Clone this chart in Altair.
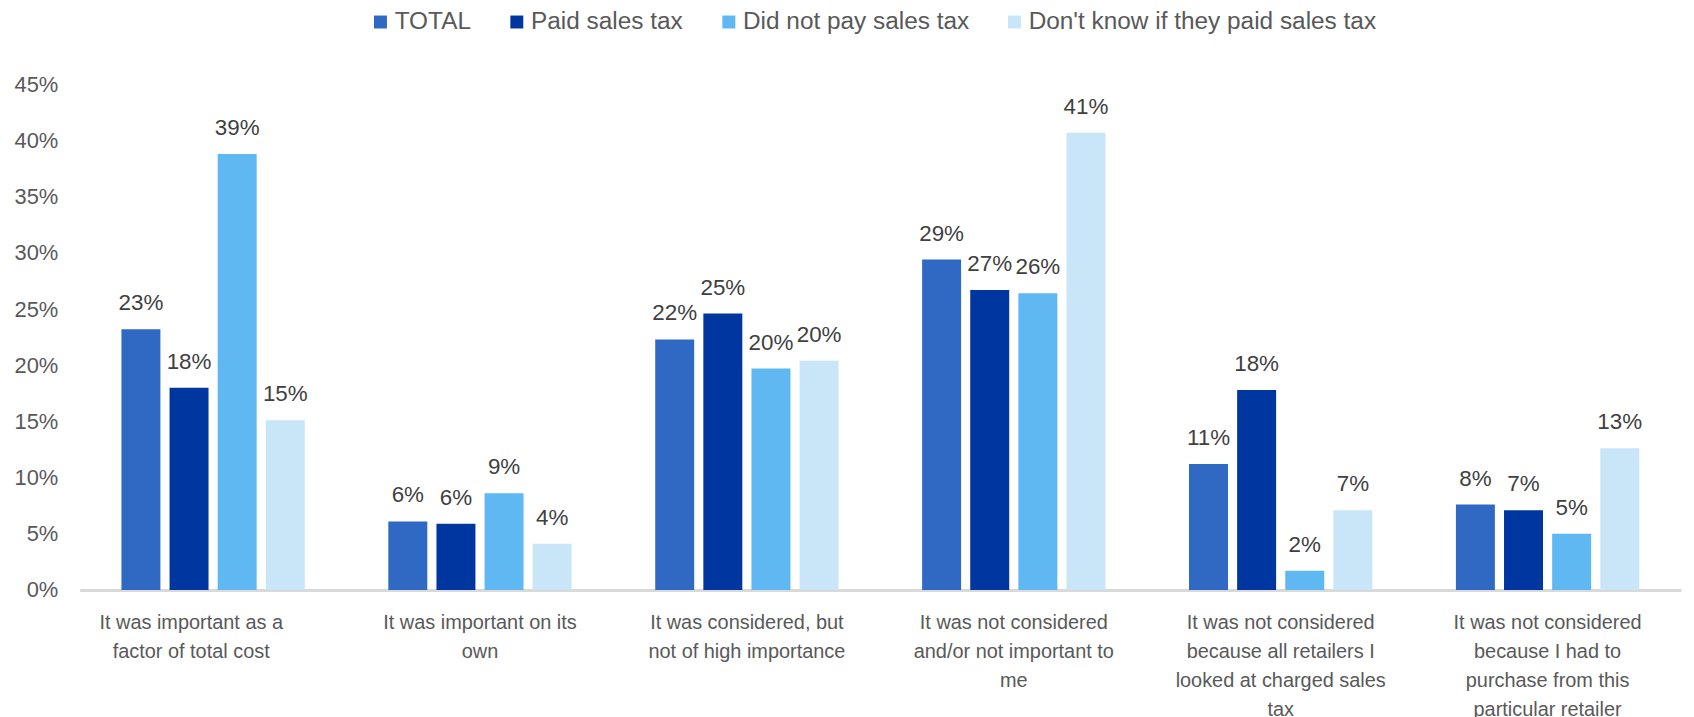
import altair as alt
import pandas as pd

categories = [
    "It was important as a|factor of total cost",
    "It was important on its|own",
    "It was considered, but|not of high importance",
    "It was not considered|and/or not important to|me",
    "It was not considered|because all retailers I|looked at charged sales|tax",
    "It was not considered|because I had to|purchase from this|particular retailer",
]
series = ["TOTAL", "Paid sales tax", "Did not pay sales tax", "Don't know if they paid sales tax"]
total = [23.2, 6.1, 22.3, 29.4, 11.2, 7.6]
paid = [18.0, 5.9, 24.6, 26.7, 17.8, 7.1]
did_not = [38.8, 8.6, 19.7, 26.4, 1.7, 5.0]
dont_know = [15.1, 4.1, 20.4, 40.7, 7.1, 12.6]
colors = ["#2F69C3", "#0036A0", "#5FB8F2", "#C9E6F9"]
y_ticks = [0, 5, 10, 15, 20, 25, 30, 35, 40, 45]

rows = []
for s, vals in zip(series, [total, paid, did_not, dont_know]):
    for c, v in zip(categories, vals):
        rows.append({"category": c, "series": s, "value": v})
df = pd.DataFrame(rows)

x = alt.X(
    "category:N",
    sort=categories,
    scale=alt.Scale(paddingInner=0.313, paddingOuter=0.1565),
    axis=alt.Axis(
        title=None,
        labelExpr="split(datum.label, '|')",
        labelAngle=0,
        labelFontSize=20,
        labelColor="#595959",
        labelLineHeight=29,
        labelPadding=23,
        labelBaseline="top",
        labelOffset={"condition": {"test": "datum.index == 0", "value": -22}, "value": 0},
        ticks=False,
        domainColor="#D9D9D9",
        domainWidth=3,
        labelLimit=0,
    ),
)
xo = alt.XOffset("series:N", sort=series, scale=alt.Scale(paddingInner=0.19, paddingOuter=0))
y = alt.Y(
    "value:Q",
    scale=alt.Scale(domain=[0, 45], nice=False),
    axis=alt.Axis(
        title=None,
        values=y_ticks,
        labelExpr="datum.value + '%'",
        grid=False,
        domain=False,
        ticks=False,
        labelFontSize=22,
        labelColor="#595959",
        labelPadding=22,
    ),
)
color = alt.Color(
    "series:N",
    sort=series,
    scale=alt.Scale(domain=series, range=colors),
    legend=alt.Legend(
        title=None,
        orient="none",
        legendX=290,
        legendY=-75,
        direction="horizontal",
        symbolType="square",
        symbolSize=169,
        symbolStrokeWidth=0,
        labelFontSize=24.5,
        labelColor="#595959",
        labelLimit=0,
        columnPadding=33,
        labelOffset=2,
    ),
)

base = alt.Chart(df)
bars = base.mark_bar().encode(x=x, xOffset=xo, y=y, color=color)
labels = base.transform_calculate(
    label="format(datum.value / 100, '.0%')"
).mark_text(dy=-26, fontSize=22.5, color="#404040").encode(
    x=x, xOffset=xo, y=y, text=alt.Text("label:N")
)

chart = (
    alt.layer(bars, labels)
    .properties(width=1609, height=508, padding={"left": 5, "top": 0, "right": 5, "bottom": 0})
    .configure(font="Liberation Sans")
    .configure_view(stroke=None)
)
chart.save("out.html", embed_options={"renderer": "svg", "actions": False})
